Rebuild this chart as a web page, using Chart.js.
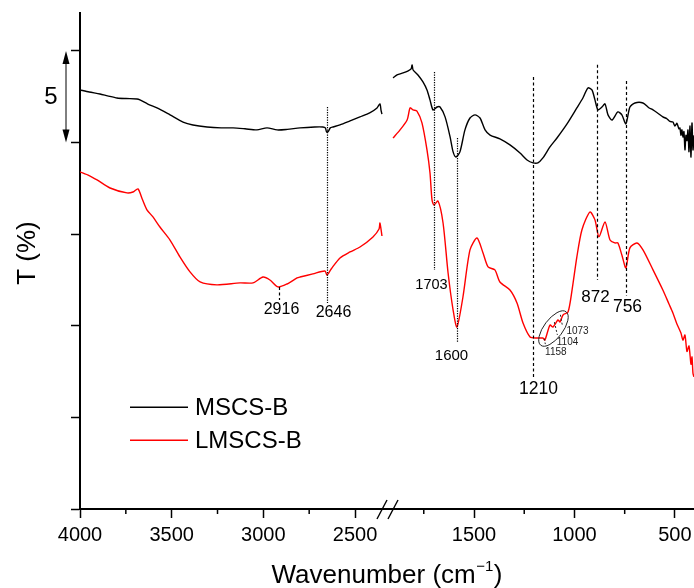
<!DOCTYPE html>
<html>
<head>
<meta charset="utf-8">
<script src="https://cdn.jsdelivr.net/npm/chart.js@4.4.1/dist/chart.umd.min.js"></script>
<style>
html,body{margin:0;padding:0;background:#fff;}
#wrap{width:694px;height:588px;position:relative;}
</style>
</head>
<body>
<div id="wrap"><canvas id="c" width="694" height="588"></canvas></div>
<script>
// ---------------- DATA ----------------
const seriesNames = ['MSCS-B', 'LMSCS-B'];

// tick values of the two segments of the broken wavenumber axis
const xLeftTicks  = [4000, 3750, 3500, 3250, 3000, 2750, 2500];
const xRightTicks = [1750, 1500, 1250, 1000, 750, 500];
const yTicks = [0, 5, 10, 15, 20, 25];

// MSCS-B, high-wavenumber segment
const mscsLeftWn = [4000,3950,3891,3850,3798,3750,3689,3673,3630,3580,3509,3438,3384,3307,3230,3165,3100,3035,2980,2925,2870,2800,2720,2675,2662,2655,2645,2635,2620,2582,2527,2473,2420,2380,2364,2358,2353];
const mscsLeftT  = [22.87,22.76,22.65,22.55,22.43,22.40,22.38,22.33,22.10,21.89,21.51,21.12,20.96,20.85,20.80,20.80,20.75,20.69,20.80,20.69,20.72,20.80,20.85,20.85,20.80,20.58,20.62,20.80,20.85,20.96,21.18,21.40,21.62,21.89,22.11,21.75,21.55];

// MSCS-B, low-wavenumber segment
const mscsRightWn = [1903,1883,1853,1830,1813,1808,1803,1779,1754,1734,1719,1704,1684,1669,1644,1619,1604,1590,1570,1545,1520,1495,1470,1445,1420,1371,1321,1271,1236,1206,1182,1157,1122,1087,1037,988,958,933,913,898,883,863,848,833,813,784,764,744,724,699,659,630,609,585,560,540,525,510,500,490,480,475,470,465,460,455,450,445,440,435,430,425,420,415,410,405];
const mscsRightT  = [23.53,23.69,23.80,23.90,24.02,24.24,23.96,23.69,23.31,22.87,22.33,21.78,21.94,21.94,21.40,20.31,19.49,19.21,19.49,20.69,21.34,21.51,21.34,20.69,20.41,20.20,19.87,19.43,19.05,18.89,18.89,19.16,19.76,20.25,21.02,21.89,22.43,22.98,22.87,22.33,21.78,21.94,22.11,21.51,21.23,21.67,21.51,21.02,21.94,22.16,22.16,21.90,21.78,21.60,21.40,21.30,21.15,21.12,20.90,21.05,20.75,20.80,20.40,20.70,20.30,20.60,19.60,20.40,20.10,20.69,19.50,20.90,19.21,21.07,19.60,20.40];

// LMSCS-B, high-wavenumber segment
const lmscsLeftWn = [4000,3950,3907,3836,3744,3711,3684,3660,3635,3602,3564,3509,3455,3400,3345,3253,3127,3056,3002,2964,2920,2871,2816,2800,2730,2664,2653,2630,2582,2527,2473,2402,2369,2364,2353];
const lmscsLeftT  = [18.40,18.20,17.96,17.52,17.25,17.30,17.47,16.90,16.33,15.94,15.39,14.68,13.76,12.94,12.39,12.23,12.34,12.34,12.66,12.50,12.12,12.28,12.61,12.66,12.83,12.99,12.77,13.10,13.70,14.03,14.30,14.85,15.28,15.61,14.90];

// LMSCS-B, low-wavenumber segment
const lmscsRightWn = [1903,1868,1833,1818,1803,1784,1759,1734,1719,1709,1699,1679,1654,1629,1604,1585,1555,1520,1485,1455,1430,1396,1371,1321,1286,1256,1221,1187,1157,1147,1122,1107,1082,1072,1057,1032,1012,988,963,923,898,878,848,823,799,784,764,744,724,689,659,609,560,530,510,490,470,460,450,440,430,420,415,410,405];
const lmscsRightT  = [20.25,20.69,21.23,21.89,21.78,21.72,21.07,19.60,18.34,16.87,16.59,16.81,15.61,12.88,10.86,9.93,11.57,14.14,14.79,13.97,13.21,13.05,12.39,11.95,11.24,10.15,9.39,9.33,9.33,9.22,10.04,9.93,10.32,10.21,10.59,10.75,11.95,13.76,15.23,16.21,15.78,14.85,15.67,14.68,14.52,14.52,13.86,13.16,14.25,14.52,14.14,13.05,11.95,11.20,10.70,10.10,9.60,9.22,9.50,8.60,8.90,7.90,8.30,7.40,7.21];

// peak annotations (label text, wavenumber where the guide is drawn, guide top/bottom in T units)
const peakLabels = ['2916', '2646', '1703', '1600', '1210', '872', '756'];
const peakWn     = [2915, 2653, 1699, 1585, 1206, 888, 744];
const peakTopT   = [12.12, 21.94, 23.85, 20.25, 23.58, 24.24, 23.36];
const peakBotT   = [11.41, 11.24, 13.05, 9.06, 7.15, 12.50, 11.63];
const subLabels  = ['1073', '1104', '1158'];

// ---------------- CHART ----------------
const FONT = '"Liberation Sans", Arial, Helvetica, sans-serif';
const toXY = (xs, ys) => xs.map((x, i) => ({x: x, y: ys[i]}));

const peakStyle = [
  {axis:'xL', dash:[3,2.5], dx:2,  dy:10, size:16},
  {axis:'xL', dash:[1.2,1.3], dx:6, dy:10, size:16},
  {axis:'xR', dash:[1.2,1.3], dx:-3, dy:15, size:14.5},
  {axis:'xR', dash:[1.2,1.3], dx:-6, dy:13, size:15},
  {axis:'xR', dash:[3,2.5], dx:5,  dy:11, size:17.5},
  {axis:'xR', dash:[3,2.5], dx:-2, dy:17, size:17},
  {axis:'xR', dash:[3,2.5], dx:1,  dy:11, size:17.5}
];

const overlay = {
  id: 'overlay',
  afterDraw(chart) {
    const {ctx, chartArea} = chart;
    const xL = chart.scales.xL, xR = chart.scales.xR, y = chart.scales.y;
    ctx.save();
    // minor x ticks
    ctx.strokeStyle = '#000';
    ctx.lineWidth = 1.5;
    [xL, xR].forEach(s => {
      s.ticks.forEach(t => {
        if (t.value % 500 !== 0) {
          const px = s.getPixelForValue(t.value);
          ctx.beginPath();
          ctx.moveTo(px, chartArea.bottom);
          ctx.lineTo(px, chartArea.bottom + 5);
          ctx.stroke();
        }
      });
    });
    // axis break marks
    const bx = xL.right + 1.5;
    const by = chartArea.bottom;
    ctx.lineWidth = 1.4;
    [-5.5, 5.5].forEach(o => {
      ctx.beginPath();
      ctx.moveTo(bx + o - 5, by + 10);
      ctx.lineTo(bx + o + 5, by - 9);
      ctx.stroke();
    });
    // peak guides and labels
    ctx.fillStyle = '#000';
    ctx.textAlign = 'center';
    ctx.textBaseline = 'middle';
    peakLabels.forEach((lab, i) => {
      const st = peakStyle[i];
      const s = chart.scales[st.axis];
      const px = Math.round(s.getPixelForValue(peakWn[i])) + 0.5;
      const y1 = y.getPixelForValue(peakTopT[i]);
      const y2 = y.getPixelForValue(peakBotT[i]);
      ctx.setLineDash(st.dash);
      ctx.lineWidth = 1.2;
      ctx.strokeStyle = '#000';
      ctx.beginPath();
      ctx.moveTo(px, y1);
      ctx.lineTo(px, y2);
      ctx.stroke();
      ctx.setLineDash([]);
      ctx.font = st.size + 'px ' + FONT;
      ctx.fillText(lab, px + st.dx, y2 + st.dy);
    });
    // ellipse around 1158-1073 region
    const ecx = xR.getPixelForValue(1104.5);
    const ecy = y.getPixelForValue(9.85);
    ctx.lineWidth = 1;
    ctx.strokeStyle = '#222';
    ctx.beginPath();
    ctx.ellipse(ecx, ecy, 21, 9.5, -53 * Math.PI / 180, 0, Math.PI * 2);
    ctx.stroke();
    // small guides inside ellipse
    ctx.setLineDash([2, 2]);
    const smallGuides = [[1070, 10.6, 1060, 10.0], [1100, 10.2, 1085, 9.5], [1150, 9.3, 1145, 9.0]];
    smallGuides.forEach(g => {
      ctx.beginPath();
      ctx.moveTo(xR.getPixelForValue(g[0]), y.getPixelForValue(g[1]));
      ctx.lineTo(xR.getPixelForValue(g[2]), y.getPixelForValue(g[3]));
      ctx.stroke();
    });
    ctx.setLineDash([]);
    ctx.font = '10px ' + FONT;
    ctx.textAlign = 'left';
    ctx.fillStyle = '#222';
    const subPos = [[1040, 9.7], [1088, 9.1], [1146, 8.55]];
    subLabels.forEach((lab, i) => {
      ctx.fillText(lab, xR.getPixelForValue(subPos[i][0]), y.getPixelForValue(subPos[i][1]));
    });
    // scale bar "5"
    const sx = chartArea.left - 14;
    const sy1 = y.getPixelForValue(25), sy2 = y.getPixelForValue(20);
    ctx.strokeStyle = '#000';
    ctx.fillStyle = '#000';
    ctx.lineWidth = 1;
    ctx.beginPath(); ctx.moveTo(sx, sy1 + 6); ctx.lineTo(sx, sy2 - 6); ctx.stroke();
    ctx.beginPath(); ctx.moveTo(sx, sy1); ctx.lineTo(sx - 3.5, sy1 + 13); ctx.lineTo(sx + 3.5, sy1 + 13); ctx.closePath(); ctx.fill();
    ctx.beginPath(); ctx.moveTo(sx, sy2); ctx.lineTo(sx - 3.5, sy2 - 13); ctx.lineTo(sx + 3.5, sy2 - 13); ctx.closePath(); ctx.fill();
    ctx.font = '24px ' + FONT;
    ctx.textAlign = 'center';
    ctx.textBaseline = 'middle';
    ctx.fillText('5', sx - 15, (sy1 + sy2) / 2 + 1);
    // legend
    const legColors = ['#000000', '#ff0000'];
    const legY = [y.getPixelForValue(5.55), y.getPixelForValue(3.75)];
    ctx.font = '24px ' + FONT;
    ctx.textAlign = 'left';
    seriesNames.forEach((n, i) => {
      ctx.strokeStyle = legColors[i];
      ctx.lineWidth = 1.5;
      ctx.beginPath();
      ctx.moveTo(130, legY[i]);
      ctx.lineTo(188, legY[i]);
      ctx.stroke();
      ctx.fillStyle = '#000';
      ctx.fillText(n, 195, legY[i] + 1);
    });
    // x axis title with superscript
    const tMain = 'Wavenumber (cm', tSup = '\u22121', tEnd = ')';
    ctx.textBaseline = 'alphabetic';
    ctx.font = '26px ' + FONT;
    const w1 = ctx.measureText(tMain).width, w3 = ctx.measureText(tEnd).width;
    ctx.font = '15px ' + FONT;
    const w2 = ctx.measureText(tSup).width;
    const total = w1 + w2 + w3 + 1;
    let tx = (chartArea.left + chartArea.right) / 2 - total / 2;
    const ty = 583;
    ctx.fillStyle = '#000';
    ctx.font = '26px ' + FONT;
    ctx.fillText(tMain, tx, ty);
    ctx.font = '15px ' + FONT;
    ctx.fillText(tSup, tx + w1 + 0.5, ty - 12);
    ctx.font = '26px ' + FONT;
    ctx.fillText(tEnd, tx + w1 + w2 + 1, ty);
    // y axis title
    ctx.save();
    ctx.translate(28, 253);
    ctx.rotate(-Math.PI / 2);
    ctx.font = '26px ' + FONT;
    ctx.textAlign = 'center';
    ctx.textBaseline = 'middle';
    ctx.fillText('T (%)', 0, 0);
    ctx.restore();
    ctx.restore();
  }
};

const xAxisCommon = (ticks) => ({
  type: 'linear',
  position: 'bottom',
  stack: 'wn',
  reverse: true,
  afterBuildTicks: s => { s.ticks = ticks.map(v => ({value: v})); },
  afterFit: s => { s.height = 79; s.paddingLeft = 0; s.paddingRight = 0; },
  grid: {
    display: true, drawOnChartArea: false, drawTicks: true, tickLength: 9,
    tickWidth: 1.5,
    tickColor: c => (c.tick && c.tick.value % 500 === 0) ? '#000' : 'rgba(0,0,0,0)'
  },
  border: {display: true, color: '#000', width: 2},
  ticks: {
    autoSkip: false, maxRotation: 0, padding: 5, color: '#000',
    font: {family: FONT, size: 20},
    callback: v => (v % 500 === 0 ? String(v) : '')
  }
});

const xL = Object.assign(xAxisCommon(xLeftTicks), {min: 2331, max: 4000, stackWeight: 306});
const xR = Object.assign(xAxisCommon(xRightTicks), {min: 405, max: 1938, stackWeight: 308});

const lineDs = (label, data, axis, color) => ({
  label: label, data: data, xAxisID: axis, yAxisID: 'y',
  borderColor: color, backgroundColor: color, borderWidth: 1.4,
  pointRadius: 0, tension: 0.25, fill: false
});

new Chart(document.getElementById('c'), {
  type: 'line',
  data: {
    datasets: [
      lineDs(seriesNames[0], toXY(mscsLeftWn, mscsLeftT), 'xL', '#000000'),
      lineDs(seriesNames[0], toXY(mscsRightWn, mscsRightT), 'xR', '#000000'),
      lineDs(seriesNames[1], toXY(lmscsLeftWn, lmscsLeftT), 'xL', '#ff0000'),
      lineDs(seriesNames[1], toXY(lmscsRightWn, lmscsRightT), 'xR', '#ff0000')
    ]
  },
  options: {
    responsive: false,
    animation: false,
    devicePixelRatio: 1,
    layout: {padding: {top: 13, left: 0, right: 0, bottom: 0}},
    plugins: {legend: {display: false}, tooltip: {enabled: false}, title: {display: false}},
    scales: {
      xL: xL,
      xR: xR,
      y: {
        type: 'linear', position: 'left', min: 0, max: 27.07,
        afterBuildTicks: s => { s.ticks = yTicks.map(v => ({value: v})); },
        afterFit: s => { s.width = 80; s.paddingTop = 0; s.paddingBottom = 0; },
        grid: {display: true, drawOnChartArea: false, drawTicks: true, tickLength: 9, tickWidth: 1.5, tickColor: '#000'},
        border: {display: true, color: '#000', width: 2},
        ticks: {display: false}
      }
    }
  },
  plugins: [overlay]
});
</script>
</body>
</html>
